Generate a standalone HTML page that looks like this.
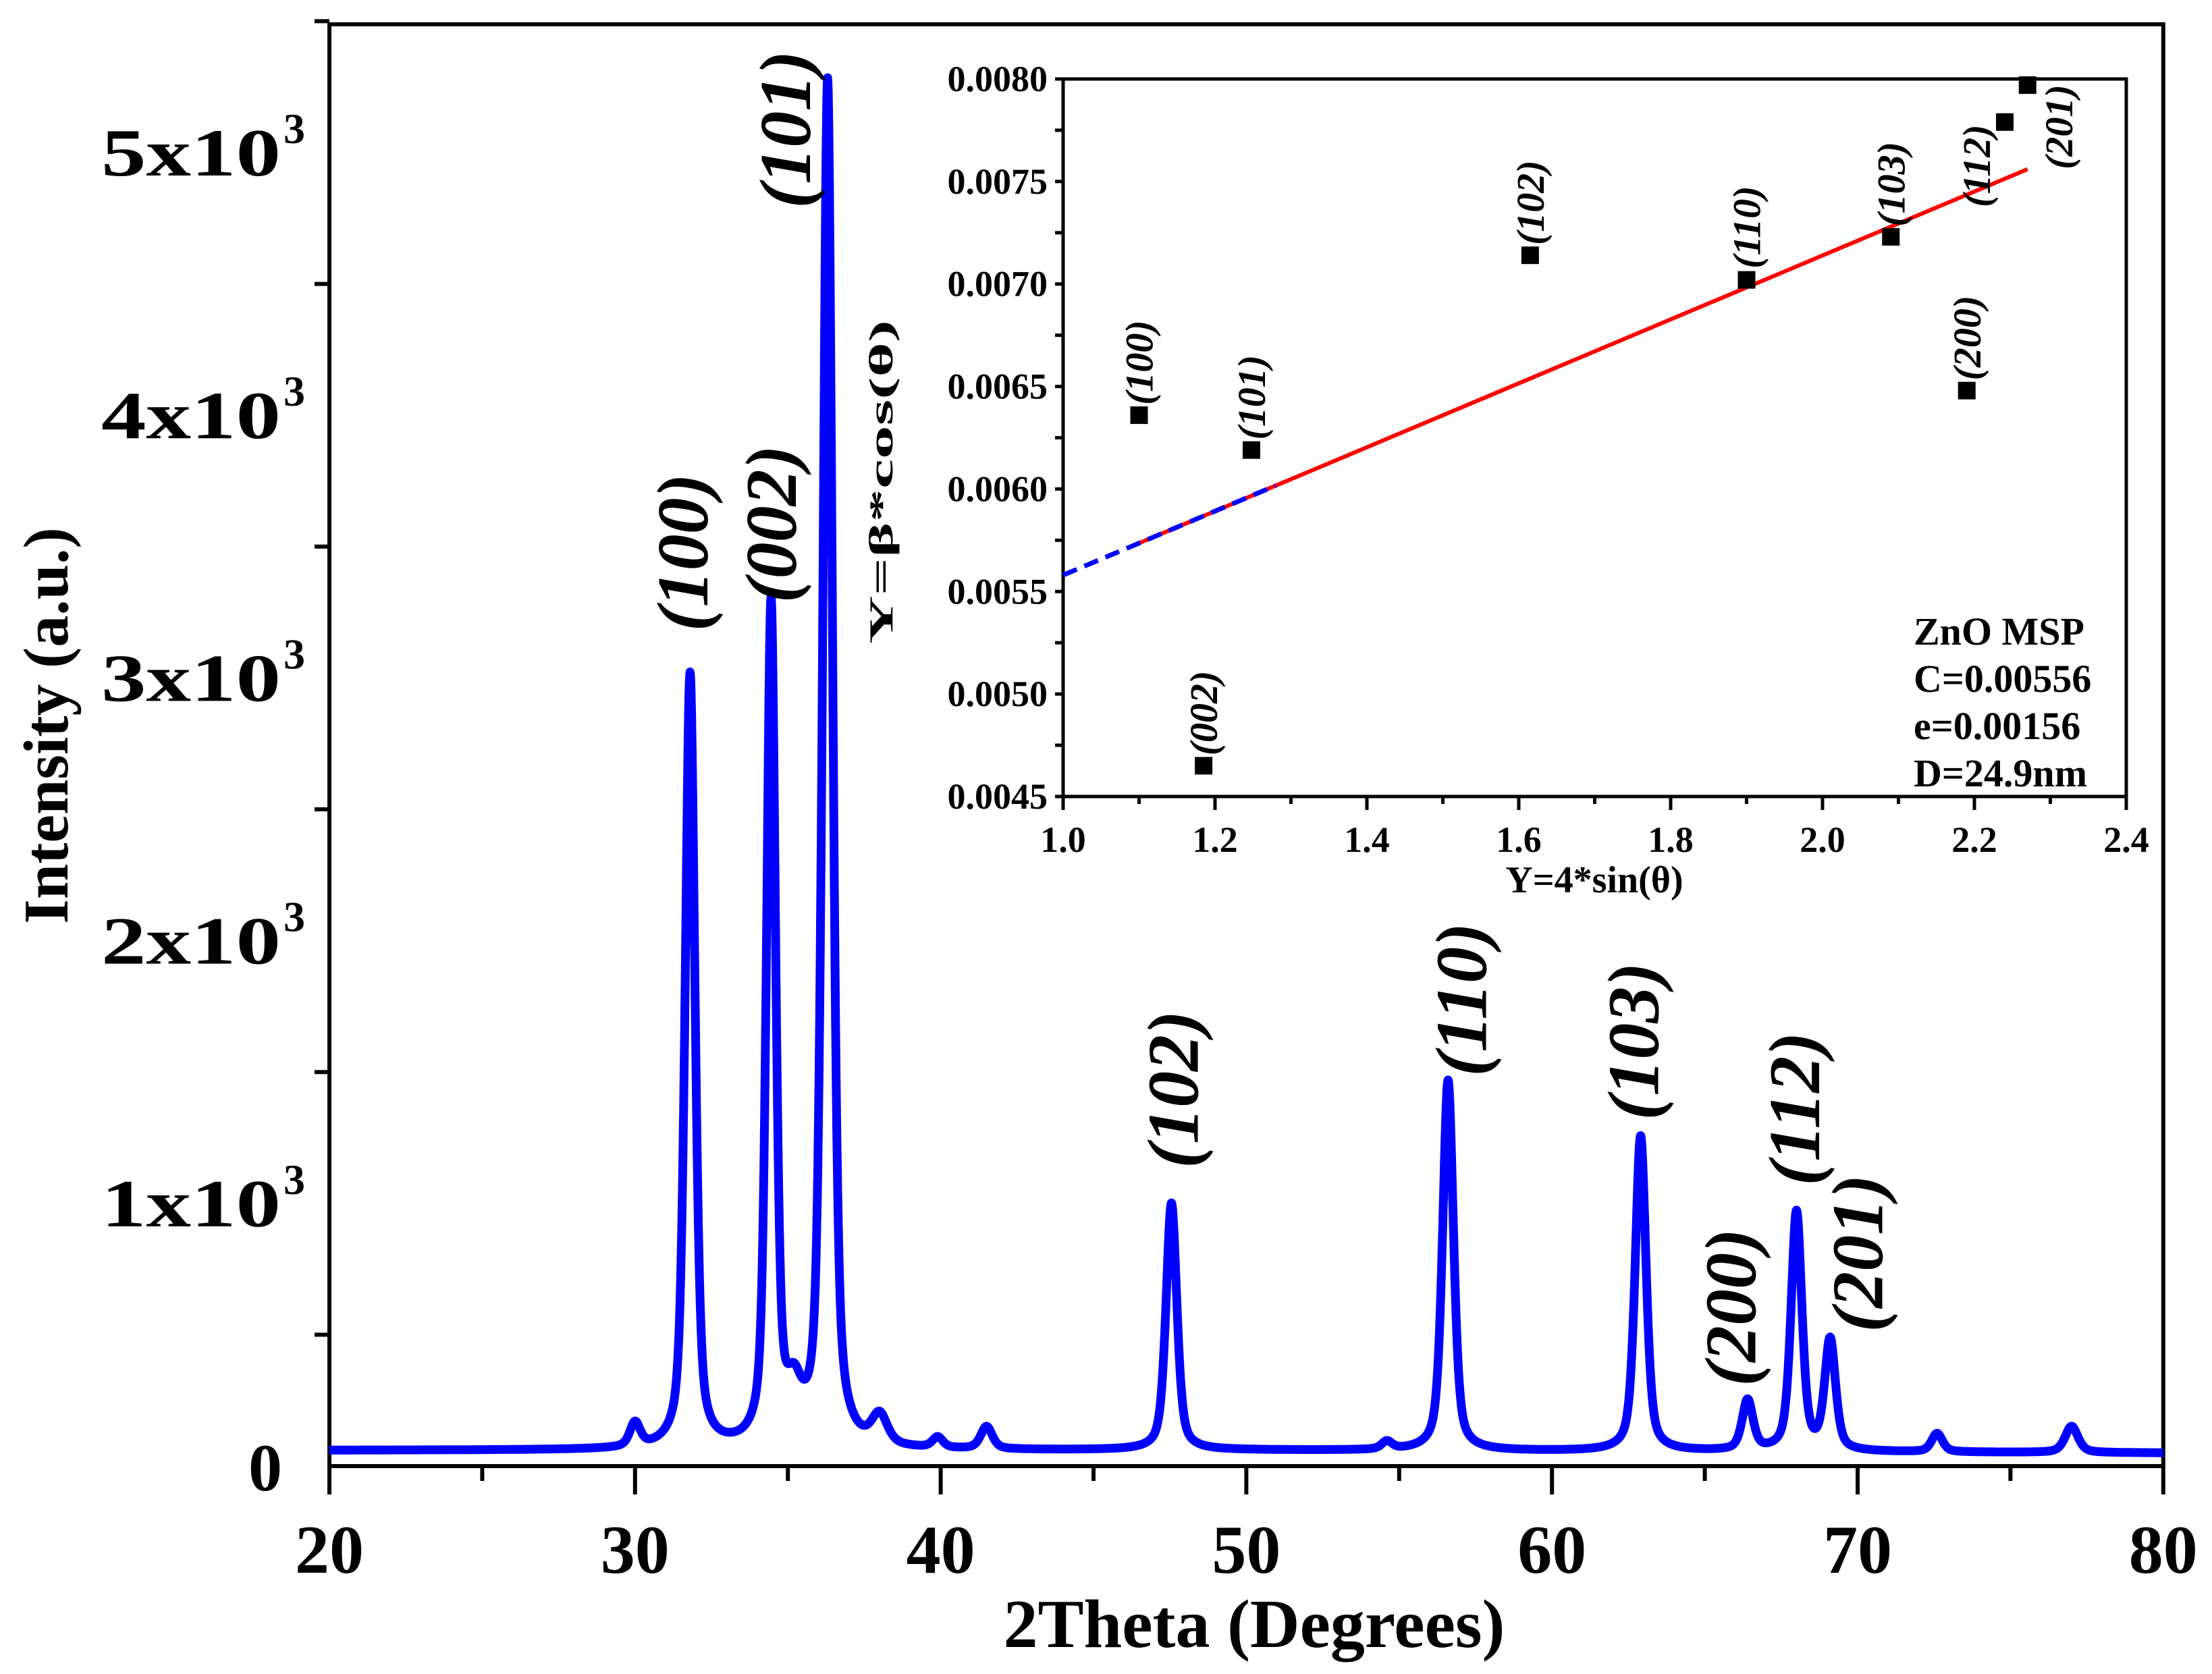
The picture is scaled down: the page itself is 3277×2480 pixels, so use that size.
<!DOCTYPE html>
<html><head><meta charset="utf-8"><style>
html,body{margin:0;padding:0;background:#fff;}
svg{display:block;font-family:"Liberation Serif",serif;}
</style></head><body>
<svg id="c" width="3277" height="2480" viewBox="0 0 3277 2480" xmlns="http://www.w3.org/2000/svg"></svg>
<script>
// main chart data
const peakCenters=[30.0,31.8,34.45,35.2,36.3,38.0,39.9,41.5,47.55,54.6,56.6,62.9,66.4,68.0,69.1,72.6,77.0];
const peakHeights=[90,2950,3200,170,5200,110,40,85,940,30,1410,1200,190,910,420,70,100];
const peakWidths=[0.4,0.38,0.35,0.6,0.38,0.6,0.4,0.45,0.42,0.4,0.42,0.42,0.42,0.42,0.42,0.42,0.5];
const baseline=[60,60,60,55,50];
const baselineX=[20,35,50,65,80];
const xTicks=[20,30,40,50,60,70,80];
const yTicks=[0,1000,2000,3000,4000,5000];
const yTickLabels=["0","1x10","2x10","3x10","4x10","5x10"];
const hklLabels=["(100)","(002)","(101)","(102)","(110)","(103)","(200)","(112)","(201)"];
const hklX=[31.53,34.42,34.88,47.57,57.0,62.63,65.81,67.9,69.97];
const hklY=[3478,3586,5088,1434,1776,1617,604,1360,810];
// inset data
const insX=[1.10,1.185,1.248,1.615,1.90,2.09,2.19,2.24,2.27];
const insY=[0.00636,0.00465,0.00619,0.00714,0.00702,0.00723,0.00648,0.00779,0.00797];
const insLab=["(100)","(002)","(101)","(102)","(110)","(103)","(200)","(112)","(201)"];
const fitX=[1.0,2.27];
const fitY=[0.00558,0.00756];
const insXTicks=[1.0,1.2,1.4,1.6,1.8,2.0,2.2,2.4];
const insYTicks=[0.0045,0.0050,0.0055,0.0060,0.0065,0.0070,0.0075,0.0080];

const NS="http://www.w3.org/2000/svg";
const svg=document.getElementById('c');
function el(t,a,p){const e=document.createElementNS(NS,t);for(const k in a)e.setAttribute(k,a[k]);(p||svg).appendChild(e);return e;}
const X=v=>488+(v-20)*45.28;
const Y=v=>2172-v*0.3892;
// frame
let f=el('path',{d:`M${X(20)},${Y(0)} L${X(20)},36 L${X(80)},36 L${X(80)},${Y(0)} Z`,fill:'none',stroke:'#000','stroke-width':6});


// spectrum (pseudo-Voigt peaks)
function base(x){for(let i=0;i<baselineX.length-1;i++){if(x<=baselineX[i+1]){const t=(x-baselineX[i])/(baselineX[i+1]-baselineX[i]);return baseline[i]+t*(baseline[i+1]-baseline[i]);}}return baseline[baseline.length-1];}
let d='';
for(let x=20;x<=80.0001;x+=0.01){let v=base(x);for(let i=0;i<peakCenters.length;i++){const u=(x-peakCenters[i])/(peakWidths[i]/2);v+=peakHeights[i]*(0.5/(1+u*u)+0.5*Math.exp(-0.6931*u*u));}d+=(d?'L':'M')+X(x).toFixed(1)+','+Y(v).toFixed(1);}
let sp=el('path',{d:d,fill:'none',stroke:'#0000ff','stroke-width':13,'stroke-linejoin':'round'});


// x ticks
for(let v=20;v<=80;v+=5){const maj=v%10===0;const t=el('line',{x1:X(v),x2:X(v),y1:Y(0),y2:Y(0)+(maj?42:22),stroke:'#000','stroke-width':6});

}
xTicks.forEach(v=>{const t=el('text',{x:X(v),y:2330,'font-size':102,'font-weight':'bold','text-anchor':'middle'});t.textContent=v;

});
for(let v=0;v<=5500;v+=500){const maj=v%1000===0;const t=el('line',{x1:X(20),x2:X(20)-(maj?0:22),y1:Y(v),y2:Y(v),stroke:'#000','stroke-width':6});

}
yTicks.forEach((v,i)=>{let t;
if(v===0){t=el('text',{x:418,y:Y(v)+36,'font-size':100,'font-weight':'bold','text-anchor':'end'});}
else{t=el('text',{x:150,y:Y(v)+34,'font-size':100,'font-weight':'bold',textLength:266,lengthAdjust:'spacingAndGlyphs'});}
t.textContent=yTickLabels[i];


if(v>0){const s=el('text',{x:420,y:Y(v)-14,'font-size':64,'font-weight':'bold','text-anchor':'start'});s.textContent='3';

}});
let xt=el('text',{x:1858,y:2440,'font-size':102,'font-weight':'bold','text-anchor':'middle'});xt.textContent='2Theta (Degrees)';


let yt=el('text',{x:0,y:0,'font-size':94,'font-weight':'bold','text-anchor':'middle',transform:'translate(100,1075) rotate(-90)'});yt.textContent='Intensity (a.u.)';


hklLabels.forEach((s,i)=>{const t=el('text',{x:0,y:0,'font-size':108,'font-weight':'bold','font-style':'italic','text-anchor':'middle',transform:`translate(${X(hklX[i])+38},${Y(hklY[i])}) rotate(-90)`});t.textContent=s;

});
// inset
const IX=v=>1575+(v-1.0)/1.4*(3150-1575);
const IY=v=>1180-(v-0.0045)/0.0035*(1180-117);
let bg=el('rect',{x:IX(1),y:IY(0.008),width:IX(2.4)-IX(1),height:IY(0.0045)-IY(0.008),fill:'#fff',stroke:'#000','stroke-width':5});


for(let v=1.0;v<=2.4001;v+=0.1){const maj=Math.round(v*10)%2===0;const t=el('line',{x1:IX(v),x2:IX(v),y1:IY(0.0045),y2:IY(0.0045)+(maj?20:11),stroke:'#000','stroke-width':5});

}
for(let v=0.0045;v<=0.00801;v+=0.00025){const t=el('line',{x1:IX(1),x2:IX(1)-12,y1:IY(v),y2:IY(v),stroke:'#000','stroke-width':5});

}
insXTicks.forEach(v=>{const t=el('text',{x:IX(v),y:1262,'font-size':54,'font-weight':'bold','text-anchor':'middle'});t.textContent=v.toFixed(1);

});
insYTicks.forEach(v=>{const t=el('text',{x:1552,y:IY(v)+18,'font-size':54,'font-weight':'bold','text-anchor':'end'});t.textContent=v.toFixed(4);

});
let ixt=el('text',{x:2362,y:1322,'font-size':56,'font-weight':'bold','text-anchor':'middle'});ixt.textContent='Y=4*sin(θ)';


let iyt=el('text',{x:0,y:0,'font-size':50,'font-weight':'bold','text-anchor':'middle',textLength:480,lengthAdjust:'spacingAndGlyphs',transform:'translate(1322,714) rotate(-90)'});iyt.textContent='Y=β*cos(θ)';


// fit line
const slope=(fitY[1]-fitY[0])/(fitX[1]-fitX[0]);
const fy=x=>fitY[0]+slope*(x-fitX[0]);
let fl=el('line',{x1:IX(1.1),y1:IY(fy(1.1)),x2:IX(fitX[1]),y2:IY(fitY[1]),stroke:'#ff0000','stroke-width':6});


let bl=el('line',{x1:IX(fitX[0]),y1:IY(fitY[0]),x2:IX(1.28),y2:IY(fy(1.28)),stroke:'#0000ff','stroke-width':7,'stroke-dasharray':'22 12'});


insX.forEach((x,i)=>{const r=el('rect',{x:IX(x)-13,y:IY(insY[i])-13,width:26,height:26,fill:'#000'});


let lx=IX(x)+20, ly=IY(insY[i])-78;
if(i===8){lx=IX(x)+66;ly=IY(insY[i])+62;}
if(i===7){lx=IX(x)-22;ly=IY(insY[i])+65;}
const t=el('text',{x:0,y:0,'font-size':58,'font-weight':'bold','font-style':'italic','text-anchor':'middle',transform:`translate(${lx},${ly}) rotate(-90)`});t.textContent=insLab[i];

});
const info=["ZnO MSP","C=0.00556","e=0.00156","D=24.9nm"];
info.forEach((s,i)=>{const t=el('text',{x:2835,y:955+i*70,'font-size':58,'font-weight':'bold'});t.textContent=s;

});
</script>
</body></html>
